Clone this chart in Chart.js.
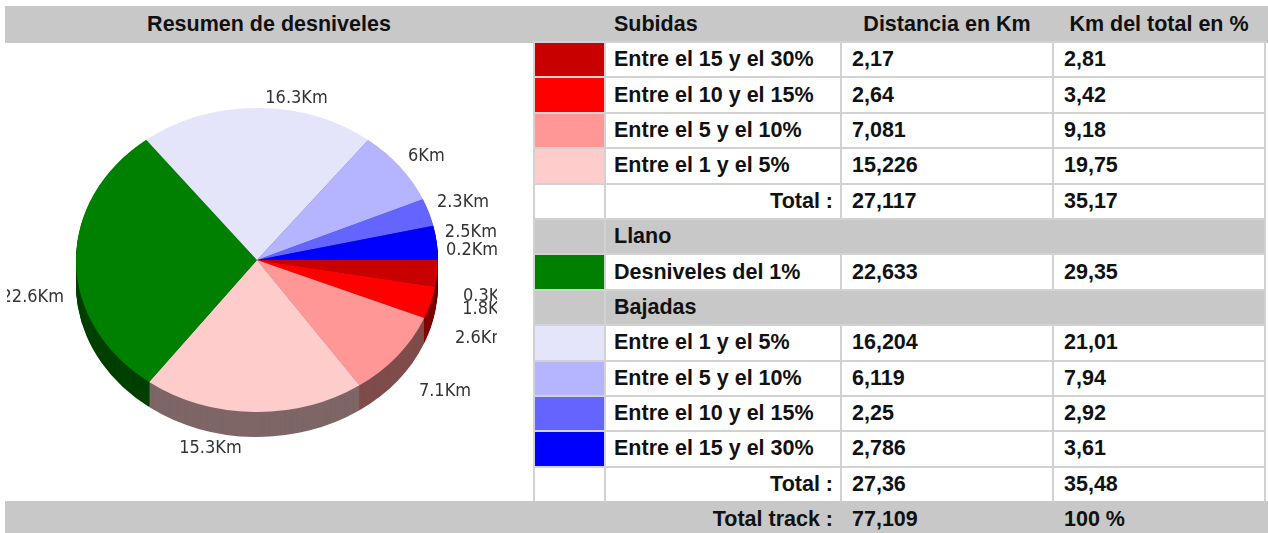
<!DOCTYPE html>
<html>
<head>
<meta charset="utf-8">
<script src="https://cdn.jsdelivr.net/npm/chart.js@4.4.0/dist/chart.umd.min.js"></script>
<style>
    body { margin: 0; background: #fff; width: 1268px; height: 533px; overflow: hidden; position: relative;
           font-family: 'Liberation Sans', Arial, sans-serif; font-weight: bold; font-size: 21.5px; color: #111; }
    .band { position: absolute; left: 5px; width: 1263px; background: #c8c8c8; }
    #bandTop { top: 6px; height: 37px; }
    #bandBottom { top: 501px; height: 32px; }
    .band span { position: absolute; top: 0; line-height: 37px; white-space: nowrap; }
    #bandBottom span { line-height: 36px; }
    #pieBox { position: absolute; left: 7px; top: 43px; width: 490px; height: 457px; }
    #tbl { position: absolute; left: 533px; top: 41px; border-spacing: 2px; background: #d2d2d2;
           table-layout: fixed; width: 733px; }
    #tbl td { height: 33.4px; padding: 0; background: #fff; white-space: nowrap; }
    #tbl td.lab { padding-left: 8px; }
    #tbl td.val { padding-left: 10px; }
    #tbl td.tot { text-align: right; padding-right: 7px; }
    #tbl tr.grp td { background: #c8c8c8; }
</style>
</head>
<body>
<div class="band" id="bandTop">
    <span style="left:0;width:528px;text-align:center">Resumen de desniveles</span>
    <span style="left:609px">Subidas</span>
    <span style="left:837px;width:210px;text-align:center">Distancia en Km</span>
    <span style="left:1049px;width:210px;text-align:center">Km del total en %</span>
</div>
<div id="pieBox"><canvas id="pie" width="490" height="457"></canvas></div>
<table id="tbl">
    <colgroup><col style="width:69px"><col style="width:234px"><col style="width:210px"><col style="width:210px"></colgroup>
    <tbody id="rows"></tbody>
</table>
<div class="band" id="bandBottom">
    <span id="trackLabel" style="left:0;width:828px;text-align:right">Total track :</span>
    <span id="trackKm" style="left:847px"></span>
    <span id="trackPct" style="left:1059px"></span>
</div>
<script>
// Table data
const subidasLabels = ['Entre el 15 y el 30%', 'Entre el 10 y el 15%', 'Entre el 5 y el 10%', 'Entre el 1 y el 5%'];
const subidasKm = [2.17, 2.64, 7.081, 15.226];
const subidasPct = [2.81, 3.42, 9.18, 19.75];
const subidasTotal = [27.117, 35.17];
const llanoLabel = 'Desniveles del 1%';
const llanoKm = 22.633;
const llanoPct = 29.35;
const bajadasLabels = ['Entre el 1 y el 5%', 'Entre el 5 y el 10%', 'Entre el 10 y el 15%', 'Entre el 15 y el 30%'];
const bajadasKm = [16.204, 6.119, 2.25, 2.786];
const bajadasPct = [21.01, 7.94, 2.92, 3.61];
const bajadasTotal = [27.36, 35.48];
const trackTotal = [77.109, 100];

const subidasColors = ['#c80000', '#ff0000', '#ff9797', '#ffcccc'];
const llanoColor = '#008000';
const bajadasColors = ['#e4e4fa', '#b4b4ff', '#6464ff', '#0000ff'];

// Pie: two empty slices at each end of the circle carry the small labels
const pieValues = [0, ...subidasKm, llanoKm, ...bajadasKm, 0];
const pieLabels = ['0.3Km', '1.8Km', '2.6Km', '7.1Km', '15.3Km', '22.6Km', '16.3Km', '6Km', '2.3Km', '2.5Km', '0.2Km'];
const pieColors = [subidasColors[0], ...subidasColors, llanoColor, ...bajadasColors, bajadasColors[3]];

const fmt = v => String(v).replace('.', ',');

// Build table
const tbody = document.getElementById('rows');
function addRow(color, label, km, pct) {
    const tr = document.createElement('tr');
    tr.innerHTML = `<td style="background:${color}"></td><td class="lab">${label}</td>` +
        `<td class="val">${fmt(km)}</td><td class="val">${fmt(pct)}</td>`;
    tbody.appendChild(tr);
}
function addTotal(km, pct) {
    const tr = document.createElement('tr');
    tr.innerHTML = `<td></td><td class="tot">Total :</td><td class="val">${fmt(km)}</td><td class="val">${fmt(pct)}</td>`;
    tbody.appendChild(tr);
}
function addGroup(name) {
    const tr = document.createElement('tr');
    tr.className = 'grp';
    tr.innerHTML = `<td></td><td class="lab" colspan="3">${name}</td>`;
    tbody.appendChild(tr);
}
subidasLabels.forEach((l, i) => addRow(subidasColors[i], l, subidasKm[i], subidasPct[i]));
addTotal(subidasTotal[0], subidasTotal[1]);
addGroup('Llano');
addRow(llanoColor, llanoLabel, llanoKm, llanoPct);
addGroup('Bajadas');
bajadasLabels.forEach((l, i) => addRow(bajadasColors[i], l, bajadasKm[i], bajadasPct[i]));
addTotal(bajadasTotal[0], bajadasTotal[1]);
document.getElementById('trackKm').textContent = fmt(trackTotal[0]);
document.getElementById('trackPct').textContent = fmt(trackTotal[1]) + ' %';

// 3D look: squash the pie vertically and draw a darker rim below it
const TILT = 0.84;
const DEPTH = 25;
const darken = hex => {
    const n = parseInt(hex.slice(1), 16);
    const r = (n >> 16) >> 1, g = ((n >> 8) & 255) >> 1, b = (n & 255) >> 1;
    return `rgb(${r},${g},${b})`;
};

const pie3d = {
    id: 'pie3d',
    beforeDatasetsDraw(chart) {
        const ctx = chart.ctx;
        const arcs = chart.getDatasetMeta(0).data;
        const cx = arcs[0].x, cy = arcs[0].y;
        ctx.save();
        ctx.translate(cx, cy);
        ctx.scale(1, TILT);
        ctx.translate(-cx, -cy);
        for (let d = DEPTH; d > 0; d--) {
            arcs.forEach((a, i) => {
                if (a.endAngle - a.startAngle <= 0) return;
                ctx.beginPath();
                ctx.moveTo(a.x, a.y + d / TILT);
                ctx.arc(a.x, a.y + d / TILT, a.outerRadius, a.startAngle, a.endAngle);
                ctx.closePath();
                ctx.fillStyle = darken(pieColors[i]);
                ctx.fill();
            });
        }
    },
    afterDatasetsDraw(chart) {
        const ctx = chart.ctx;
        ctx.restore();
        const arcs = chart.getDatasetMeta(0).data;
        ctx.save();
        ctx.font = "18px 'DejaVu Sans Condensed', 'DejaVu Sans', sans-serif";
        ctx.fillStyle = '#333';
        ctx.textBaseline = 'middle';
        arcs.forEach((a, i) => {
            const t = (a.startAngle + a.endAngle) / 2;
            const c = Math.cos(t), s = Math.sin(t);
            const px = a.x + a.outerRadius * c;
            const py = a.y + a.outerRadius * TILT * s;
            const below = t < Math.PI;
            const ty = below ? py + DEPTH + 11 : py - 10;
            if (c > -0.01) {
                ctx.textAlign = 'left';
                ctx.fillText(pieLabels[i], px + 8 + (below ? 17 * c : 0), ty);
            } else {
                ctx.textAlign = 'right';
                ctx.fillText(pieLabels[i], px - 12, ty);
            }
        });
        ctx.restore();
    }
};

new Chart(document.getElementById('pie'), {
    type: 'pie',
    data: {
        labels: pieLabels,
        datasets: [{
            data: pieValues,
            backgroundColor: pieColors,
            borderWidth: 0,
            offset: 0,
            hoverOffset: 0
        }]
    },
    options: {
        responsive: false,
        animation: false,
        events: [],
        rotation: 90,
        layout: { padding: { left: 69, right: 59, top: 36, bottom: 59 } },
        plugins: {
            legend: { display: false },
            tooltip: { enabled: false }
        }
    },
    plugins: [pie3d]
});
</script>
</body>
</html>
